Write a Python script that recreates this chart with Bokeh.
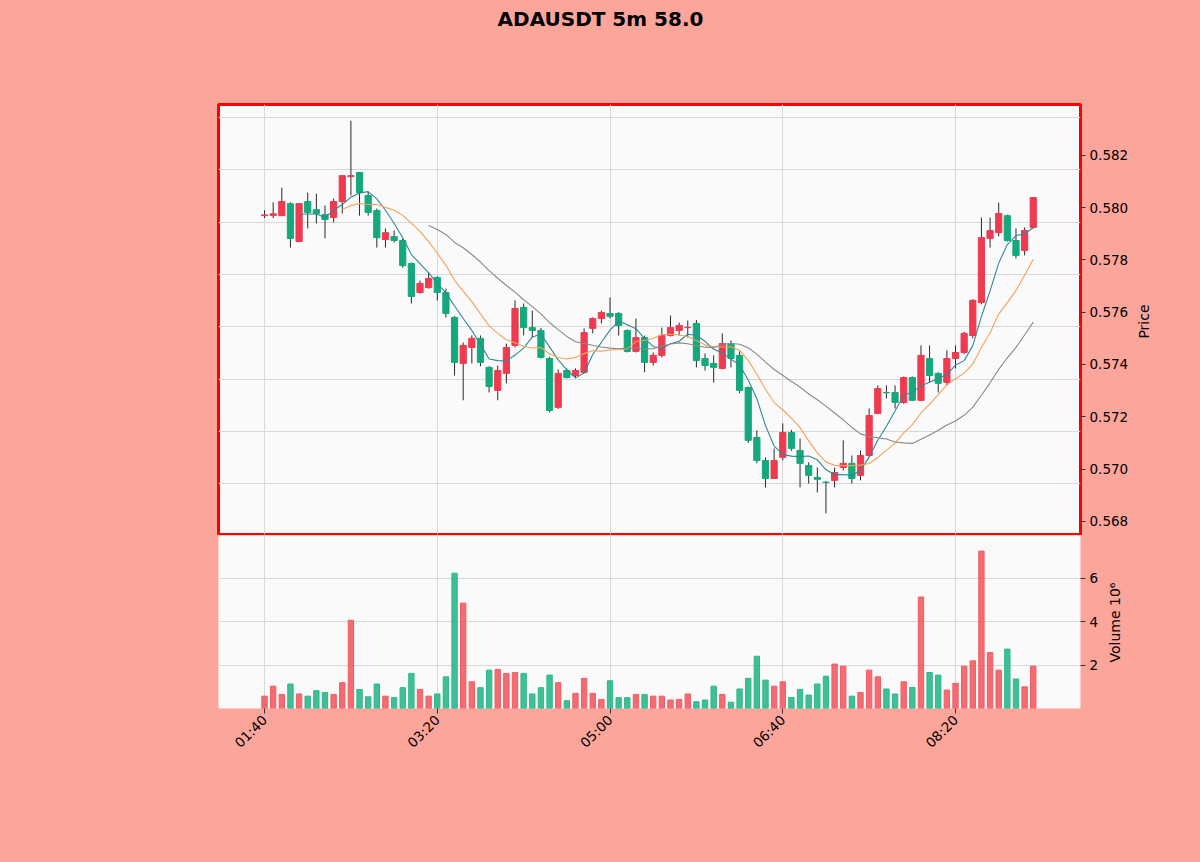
import math
import numpy as np
import pandas as pd
from bokeh.plotting import figure
from bokeh.layouts import column
from bokeh.models import FixedTicker, ColumnDataSource, Range1d, LinearAxis
from bokeh.embed import file_html
from bokeh.resources import INLINE
from bokeh.core.properties import value

# ---------------- data ----------------
title_text = "ADAUSDT 5m 58.0"
price_label = "Price"
volume_label = "Volume  10\u2076"

opens = [0.57969, 0.57970, 0.57969, 0.58015, 0.57870, 0.58023, 0.57992, 0.57973, 0.57962, 0.58023,
         0.58118, 0.58134, 0.58046, 0.57989, 0.57878, 0.57889, 0.57874, 0.57786, 0.57675, 0.57694,
         0.57733, 0.57675, 0.57580, 0.57404, 0.57465, 0.57500, 0.57389, 0.57301, 0.57366, 0.57473,
         0.57618, 0.57541, 0.57530, 0.57423, 0.57236, 0.57377, 0.57358, 0.57370, 0.57538, 0.57576,
         0.57595, 0.57595, 0.57530, 0.57450, 0.57503, 0.57408, 0.57435, 0.57511, 0.57530, 0.57541,
         0.57557, 0.57423, 0.57404, 0.57385, 0.57480, 0.57435, 0.57312, 0.57121, 0.57033, 0.56964,
         0.57045, 0.57140, 0.57071, 0.57014, 0.56968, 0.56950, 0.56957, 0.57006, 0.57022, 0.56976,
         0.57052, 0.57213, 0.57293, 0.57293, 0.57255, 0.57350, 0.57263, 0.57423, 0.57366, 0.57331,
         0.57423, 0.57446, 0.57511, 0.57637, 0.57882, 0.57904, 0.57969, 0.57874, 0.57836, 0.57924]

closes = [0.57972, 0.57976, 0.58023, 0.57882, 0.58015, 0.57981, 0.57977, 0.57954, 0.58023, 0.58122,
          0.58122, 0.58057, 0.57981, 0.57885, 0.57904, 0.57874, 0.57778, 0.57660, 0.57710, 0.57729,
          0.57675, 0.57595, 0.57408, 0.57473, 0.57500, 0.57408, 0.57316, 0.57377, 0.57465, 0.57614,
          0.57541, 0.57530, 0.57427, 0.57224, 0.57366, 0.57350, 0.57377, 0.57522, 0.57576, 0.57599,
          0.57584, 0.57549, 0.57450, 0.57503, 0.57408, 0.57435, 0.57511, 0.57541, 0.57549, 0.57542,
          0.57415, 0.57396, 0.57389, 0.57480, 0.57423, 0.57301, 0.57110, 0.57033, 0.56964, 0.57033,
          0.57140, 0.57079, 0.57022, 0.56976, 0.56961, 0.56949, 0.56987, 0.57022, 0.56964, 0.57052,
          0.57205, 0.57308, 0.57292, 0.57255, 0.57350, 0.57263, 0.57435, 0.57358, 0.57328, 0.57423,
          0.57446, 0.57519, 0.57645, 0.57885, 0.57912, 0.57977, 0.57874, 0.57817, 0.57912, 0.58038]

highs = [0.57990, 0.58020, 0.58076, 0.58020, 0.58017, 0.58057, 0.58053, 0.58008, 0.58034, 0.58122,
         0.58332, 0.58134, 0.58060, 0.57996, 0.57920, 0.57912, 0.57880, 0.57790, 0.57721, 0.57752,
         0.57737, 0.57690, 0.57585, 0.57484, 0.57511, 0.57511, 0.57393, 0.57396, 0.57480, 0.57645,
         0.57633, 0.57606, 0.57540, 0.57430, 0.57381, 0.57385, 0.57385, 0.57538, 0.57580, 0.57606,
         0.57656, 0.57600, 0.57534, 0.57576, 0.57510, 0.57446, 0.57541, 0.57587, 0.57560, 0.57568,
         0.57570, 0.57442, 0.57435, 0.57519, 0.57492, 0.57450, 0.57316, 0.57148, 0.57045, 0.57079,
         0.57175, 0.57150, 0.57117, 0.57026, 0.57006, 0.56955, 0.57006, 0.57110, 0.57052, 0.57071,
         0.57232, 0.57320, 0.57320, 0.57320, 0.57354, 0.57354, 0.57473, 0.57473, 0.57370, 0.57454,
         0.57473, 0.57525, 0.57650, 0.57962, 0.57962, 0.58019, 0.57973, 0.57920, 0.57924, 0.58040]

lows = [0.57960, 0.57960, 0.57969, 0.57847, 0.57870, 0.57920, 0.57939, 0.57882, 0.57943, 0.57977,
        0.58046, 0.57969, 0.57969, 0.57847, 0.57847, 0.57866, 0.57770, 0.57633, 0.57671, 0.57690,
        0.57645, 0.57580, 0.57358, 0.57263, 0.57404, 0.57393, 0.57293, 0.57263, 0.57328, 0.57465,
        0.57511, 0.57503, 0.57423, 0.57217, 0.57230, 0.57347, 0.57347, 0.57366, 0.57519, 0.57557,
        0.57576, 0.57511, 0.57446, 0.57446, 0.57370, 0.57396, 0.57427, 0.57507, 0.57511, 0.57503,
        0.57389, 0.57377, 0.57331, 0.57381, 0.57389, 0.57290, 0.57100, 0.57022, 0.56930, 0.56964,
        0.57033, 0.57070, 0.56930, 0.56945, 0.56911, 0.56831, 0.56930, 0.56995, 0.56945, 0.56957,
        0.57045, 0.57210, 0.57270, 0.57232, 0.57250, 0.57260, 0.57260, 0.57331, 0.57293, 0.57320,
        0.57385, 0.57440, 0.57500, 0.57630, 0.57847, 0.57890, 0.57870, 0.57805, 0.57817, 0.57920]

volumes = [570000, 1030000, 650000, 1130000, 670000, 570000, 820000, 740000, 650000, 1190000,
           4070000, 880000, 540000, 1130000, 570000, 500000, 960000, 1620000, 880000, 570000,
           670000, 1460000, 6240000, 4860000, 1230000, 960000, 1770000, 1800000, 1620000, 1660000,
           1620000, 670000, 960000, 1540000, 1190000, 360000, 700000, 1390000, 700000, 420000,
           1280000, 500000, 500000, 650000, 650000, 570000, 570000, 390000, 420000, 670000,
           310000, 390000, 1030000, 650000, 290000, 900000, 1390000, 2410000, 1310000, 1030000,
           1230000, 510000, 880000, 620000, 1130000, 1490000, 2050000, 1950000, 570000, 740000,
           1770000, 1460000, 900000, 670000, 1230000, 970000, 5140000, 1660000, 1540000, 850000,
           1160000, 1950000, 2200000, 7260000, 2580000, 1770000, 2740000, 1360000, 1000000, 1950000]

ma_periods = [5, 10, 20]
time_labels = ["01:40", "03:20", "05:00", "06:40", "08:20"]
time_label_index = [0, 20, 40, 60, 80]
price_ticks = [0.568, 0.570, 0.572, 0.574, 0.576, 0.578, 0.580, 0.582]
price_grid = [0.56944, 0.57144, 0.57344, 0.57544, 0.57744, 0.57944, 0.58144, 0.58344]
volume_ticks = [2000000, 4000000, 6000000]
volume_tick_labels = ["2", "4", "6"]
# anchor (start) of each rotated axis title, in the panel's own units
price_label_at = 0.57499
volume_label_at = 2120000

# ---------------- styles ----------------
BG = "#fba59b"
PANEL = "#fafafa"
UP = "#ef3a50"
DOWN = "#14a97c"
VUP = "#f25c62"
VDOWN = "#2bb88b"
MA_COLORS = ["#2f879a", "#f3a25c", "#8a8a8a"]
GRID = "#d8d8d8"
FONT = "DejaVu Sans"

df = pd.DataFrame({"open": opens, "high": highs, "low": lows, "close": closes, "volume": volumes})
df["x"] = np.arange(len(df))
df["top"] = df[["open", "close"]].max(axis=1)
df["bottom"] = df[["open", "close"]].min(axis=1)
up = df["close"] >= df["open"]
df["color"] = np.where(up, UP, DOWN)
df["vcolor"] = np.where(up, VUP, VDOWN)
src = ColumnDataSource(df)

xr = Range1d(-5.33, 94.47)


def style_tick_axis(ax):
    ax.major_label_text_font = FONT
    ax.major_label_text_font_size = "13.5px"
    ax.major_label_text_color = "#000000"
    ax.axis_line_color = None
    ax.major_tick_out = 5
    ax.major_tick_in = 0
    ax.minor_tick_line_color = None
    ax.major_tick_line_color = "#333333"
    ax.major_label_standoff = 4


def title_axis(text, at, standoff):
    # a tick-less axis whose single tick label is the rotated axis title
    return LinearAxis(ticker=FixedTicker(ticks=[at], minor_ticks=[]),
                      major_label_overrides={at: text},
                      major_label_orientation=math.pi / 2,
                      major_label_standoff=standoff,
                      major_label_text_font=FONT, major_label_text_font_size="14px",
                      major_label_text_color="#000000",
                      axis_line_color=None, major_tick_line_color=None, minor_tick_line_color=None,
                      major_tick_out=0, major_tick_in=0)


# ---------------- title ----------------
t = figure(width=1184, height=28, x_range=(0, 1), y_range=(0, 1),
           toolbar_location=None, output_backend="svg",
           x_axis_location=None, y_axis_location=None,
           min_border_left=210, min_border_right=112, min_border_top=0, min_border_bottom=0)
t.grid.visible = False
t.outline_line_color = None
t.background_fill_color = BG
t.border_fill_color = BG
t.text(x=[(600 - 218) / 862], y=[0.62], text=[title_text], text_align="center", text_baseline="middle",
       text_font=value(FONT), text_font_style="bold", text_font_size="20px", text_color="#000000")

# ---------------- price panel ----------------
PY0, PY1 = 0.5675, 0.58394
p = figure(width=1184, height=499, x_range=xr, y_range=Range1d(PY0, PY1),
           toolbar_location=None, output_backend="svg",
           x_axis_location=None, y_axis_location="right",
           min_border_left=210, min_border_right=112, min_border_top=68, min_border_bottom=1)
p.background_fill_color = PANEL
p.border_fill_color = BG
p.outline_line_color = "#ff0000"
p.outline_line_width = 3
p.xgrid.ticker = FixedTicker(ticks=time_label_index)
p.ygrid.ticker = FixedTicker(ticks=price_grid)
p.grid.grid_line_color = GRID
p.grid.grid_line_width = 1

ya = p.yaxis[0]
ya.ticker = FixedTicker(ticks=price_ticks)
ya.major_label_overrides = {v: f"{v:.3f}" for v in price_ticks}
style_tick_axis(ya)
p.add_layout(title_axis(price_label, price_label_at, 13), "right")

p.segment(x0="x", y0="low", x1="x", y1="high", source=src, line_color="#2a2a2a", line_width=1)
p.vbar(x="x", width=0.72, top="top", bottom="bottom", source=src,
       fill_color="color", line_color="color", line_width=1)

for n, col in zip(ma_periods, MA_COLORS):
    ma = df["close"].rolling(n).mean()
    p.line(df["x"][n - 1:], ma[n - 1:], line_color=col, line_width=1.1)

# ---------------- volume panel ----------------
v = figure(width=1184, height=319, x_range=xr, y_range=Range1d(0, 7.98e6),
           toolbar_location=None, output_backend="svg",
           y_axis_location="right",
           min_border_left=210, min_border_right=112, min_border_top=0, min_border_bottom=146)
v.background_fill_color = PANEL
v.border_fill_color = BG
v.outline_line_color = None
v.xgrid.ticker = FixedTicker(ticks=time_label_index)
v.grid.grid_line_color = GRID

vy = v.yaxis[0]
vy.ticker = FixedTicker(ticks=volume_ticks)
vy.major_label_overrides = {tv: lab for tv, lab in zip(volume_ticks, volume_tick_labels)}
style_tick_axis(vy)
v.add_layout(title_axis(volume_label, volume_label_at, 14), "right")

vx = v.xaxis[0]
vx.ticker = FixedTicker(ticks=time_label_index)
vx.major_label_overrides = {i: lab for i, lab in zip(time_label_index, time_labels)}
vx.major_label_orientation = math.pi / 4
style_tick_axis(vx)

v.vbar(x="x", width=0.62, top="volume", bottom=0, source=src,
       fill_color="vcolor", line_color="vcolor", fill_alpha=0.9)

layout = column(t, p, v, spacing=0)
layout.background = BG

html = file_html(layout, INLINE, title="ADAUSDT")
html = html.replace("<body>", f'<body style="background:{BG};margin:8px;">')
open("out.html", "w").write(html)
